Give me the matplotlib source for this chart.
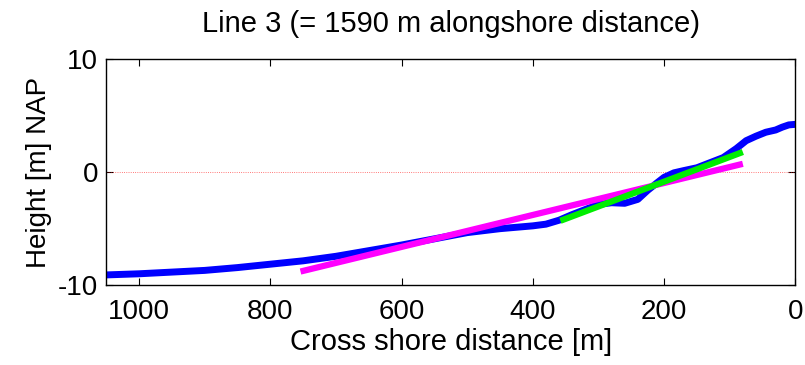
import numpy as np
import matplotlib.pyplot as plt

plt.rcParams['font.family'] = ['Liberation Sans', 'DejaVu Sans']
plt.rcParams['axes.unicode_minus'] = False

# Measured profile (cross shore distance [m], height [m] NAP)
profile_x = [1050, 1000, 950, 900, 850, 800, 750, 700, 650, 600, 550, 500,
             450, 400, 380, 360, 340, 320, 300, 280, 260, 240, 225, 210,
             200, 185, 170, 150, 130, 110, 90, 75, 60, 45, 30, 20, 10, 0]
profile_y = [-9.1, -9.0, -8.85, -8.7, -8.45, -8.15, -7.85, -7.45, -6.95, -6.45,
             -5.9, -5.35, -5.0, -4.75, -4.6, -4.25, -3.75, -3.3, -2.85, -2.7,
             -2.75, -2.4, -1.6, -0.9, -0.45, -0.05, 0.15, 0.4, 0.85, 1.3,
             2.1, 2.8, 3.2, 3.55, 3.75, 4.0, 4.2, 4.25]

# Linear fits
fit_all_x = [754, 80]
fit_all_y = [-8.8, 0.75]
fit_near_x = [358, 80]
fit_near_y = [-4.3, 1.8]

fig = plt.figure(figsize=(8.05, 3.65), dpi=100)
ax = fig.add_axes([0.132, 0.219, 0.856, 0.618])

ax.axhline(0, color='red', linewidth=0.6, linestyle=':', alpha=0.7)
ax.plot(profile_x, profile_y, color='#0000ff', linewidth=5, solid_capstyle='butt')
ax.plot(fit_all_x, fit_all_y, color='#ff00ff', linewidth=4.5, solid_capstyle='butt')
ax.plot(fit_near_x, fit_near_y, color='#00ee00', linewidth=4.5, solid_capstyle='butt')

ax.set_xlim(1050, 0)
ax.set_ylim(-10, 10)
ax.set_xticks([1000, 800, 600, 400, 200, 0])
ax.set_yticks([-10, 0, 10])
ax.tick_params(direction='in', top=True, right=True, length=5, labelsize=20)
ax.tick_params(axis='x', pad=10)
ax.tick_params(axis='y', pad=6)
for s in ax.spines.values():
    s.set_linewidth(1.0)

ax.set_title('Line 3 (= 1590 m alongshore distance)', fontsize=21, pad=20)
ax.set_xlabel('Cross shore distance [m]', fontsize=21, labelpad=2)
ax.set_ylabel('Height [m] NAP', fontsize=20, labelpad=4)

fig.savefig('out.png', dpi=100)
